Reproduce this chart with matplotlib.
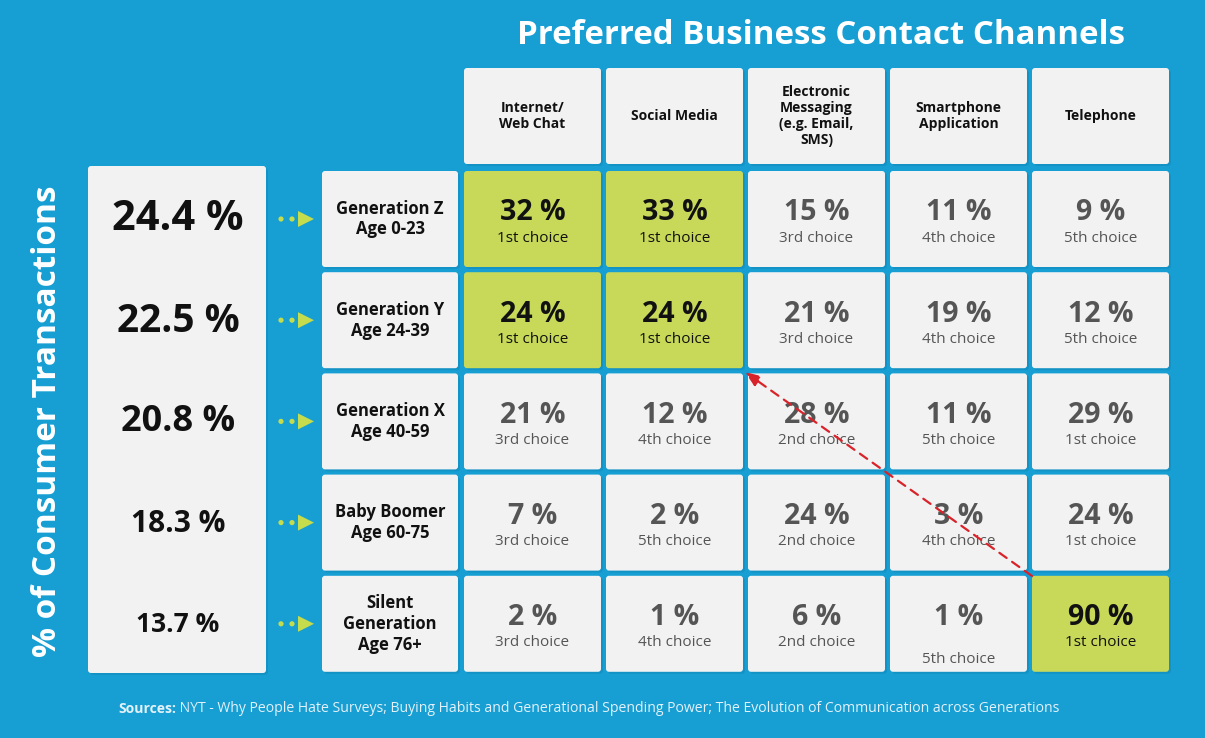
import matplotlib.pyplot as plt
from matplotlib.patches import FancyBboxPatch, Polygon, Circle

# data
channels = ["Internet/\nWeb Chat", "Social Media", "Electronic\nMessaging\n(e.g. Email,\nSMS)",
            "Smartphone\nApplication", "Telephone"]
generations = ["Generation Z\nAge 0-23", "Generation Y\nAge 24-39", "Generation X\nAge 40-59",
               "Baby Boomer\nAge 60-75", "Silent\nGeneration\nAge 76+"]
share_of_transactions = [24.4, 22.5, 20.8, 18.3, 13.7]
pct = [
    [32, 33, 15, 11, 9],
    [24, 24, 21, 19, 12],
    [21, 12, 28, 11, 29],
    [7, 2, 24, 3, 24],
    [2, 1, 6, 1, 90],
]
rank = [
    ["1st", "1st", "3rd", "4th", "5th"],
    ["1st", "1st", "3rd", "4th", "5th"],
    ["3rd", "4th", "2nd", "5th", "1st"],
    ["3rd", "5th", "2nd", "4th", "1st"],
    ["3rd", "4th", "2nd", "5th", "1st"],
]
highlight = [(0, 0), (0, 1), (1, 0), (1, 1), (4, 4)]

BG = "#179fd3"
CELL = "#f2f2f2"
GREEN = "#c8d95a"
ARROW = "#c5dc4c"
FONT = "Open Sans"

fig = plt.figure(figsize=(12.05, 7.38), dpi=100)
fig.patch.set_facecolor(BG)
ax = fig.add_axes([0, 0, 1, 1])
ax.set_xlim(0, 1205)
ax.set_ylim(738, 0)
ax.axis("off")


def box(x, y, w, h, color):
    ax.add_patch(FancyBboxPatch((x + 2, y + 2), w, h, boxstyle="round,pad=0,rounding_size=3",
                                fc="#0e7fab", ec="none", alpha=0.35, zorder=1))
    ax.add_patch(FancyBboxPatch((x, y), w, h, boxstyle="round,pad=0,rounding_size=3",
                                fc=color, ec="none", zorder=2))


col_x0, col_pitch, cw = 464, 142, 137
row_y0, row_pitch, rh = 171, 101.2, 96

ax.text(821, 36, "Preferred Business Contact Channels", color="white", fontsize=23.8,
        fontweight="bold", family=FONT, ha="center", va="center")

# header row
for j, name in enumerate(channels):
    x = col_x0 + j * col_pitch
    box(x, 68, cw, 96, CELL)
    ax.text(x + cw / 2, 116, name, ha="center", va="center", fontsize=10, fontweight="bold",
            family=FONT, color="#111111", linespacing=1.2, zorder=3)

# left share box
box(88, 166, 178, 507, CELL)
sizes = [30, 28, 26, 21.5, 19]
for i, v in enumerate(share_of_transactions):
    yc = row_y0 + i * row_pitch + rh / 2
    ax.text(178, yc + 1, f"{v} %", ha="center", va="center", fontsize=sizes[i], fontweight="bold",
            family=FONT, color="#111111", zorder=3)
    # arrow marker
    for dx in (281, 292):
        ax.add_patch(Circle((dx, yc), 2.6, fc=ARROW, ec="none", zorder=3))
    ax.add_patch(Polygon([[298, yc - 8], [298, yc + 8], [314, yc]], closed=True,
                         fc=ARROW, ec="none", zorder=3))
    # generation label
    box(322, row_y0 + i * row_pitch, 136, rh, CELL)
    ax.text(390, yc, generations[i], ha="center", va="center", fontsize=12, fontweight="bold",
            family=FONT, color="#111111", linespacing=1.2, zorder=3)

# data cells
for i in range(len(generations)):
    for j in range(len(channels)):
        x = col_x0 + j * col_pitch
        y = row_y0 + i * row_pitch
        hl = (i, j) in highlight
        box(x, y, cw, rh, GREEN if hl else CELL)
        c = "#111111" if hl else "#555555"
        ax.text(x + cw / 2, y + 42, f"{pct[i][j]} %", ha="center", va="center", fontsize=20.5,
                fontweight="bold", family=FONT, color=c, zorder=3)
        dy = 84 if (i, j) == (4, 3) else 67
        ax.text(x + cw / 2, y + dy, f"{rank[i][j]} choice", ha="center", va="center", fontsize=11,
                family=FONT, color=c, zorder=3)

# red dashed arrow
ax.annotate("", xy=(745, 372), xytext=(1032, 576),
            arrowprops=dict(arrowstyle="-|>,head_length=0.9,head_width=0.35", color="#d9232a",
                            lw=1.6, linestyle=(0, (4, 3)), shrinkA=0, shrinkB=0), zorder=5)

# vertical axis label
ax.text(48, 421, "% of Consumer Transactions", rotation=90, ha="center", va="center",
        fontsize=24, fontweight="bold", family=FONT, color="white")

# sources
src = ax.text(118, 709, "Sources:", ha="left", va="center", fontsize=10.1, fontweight="bold",
              family=FONT, color="#e3f1f8")
ax.annotate(" NYT - Why People Hate Surveys; Buying Habits and Generational Spending Power; "
            "The Evolution of Communication across Generations", xy=(1, 0.5), xycoords=src,
            ha="left", va="center", fontsize=10.1, family=FONT, color="#e3f1f8")

fig.savefig("out.png", dpi=100, facecolor=BG)
